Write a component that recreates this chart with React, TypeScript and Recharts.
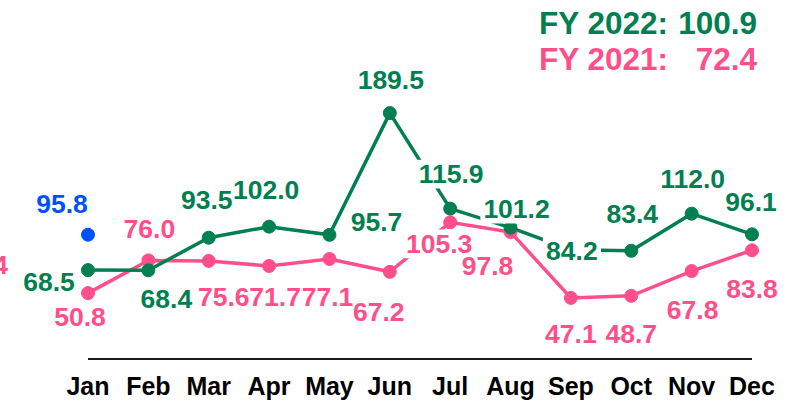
import { Line, LineChart, ReferenceLine, XAxis, YAxis } from "recharts";

const months = ["Jan", "Feb", "Mar", "Apr", "May", "Jun", "Jul", "Aug", "Sep", "Oct", "Nov", "Dec"];
const fy2022 = [68.5, 68.4, 93.5, 102.0, 95.7, 189.5, 115.9, 101.2, 84.2, 83.4, 112.0, 96.1];
const fy2021 = [50.8, 76.0, 75.6, 71.7, 77.1, 67.2, 105.3, 97.8, 47.1, 48.7, 67.8, 83.8];
const extra = [95.8, null, null, null, null, null, null, null, null, null, null, null];

// where each value label sits, relative to its point (label centre)
const fy2022LabelPos: [number, number][] = [
  [-39, 11], [18, 28], [-2, -38], [-3, -37], [47, -13], [1, -34],
  [1, -35], [6, -19], [1, 1], [1, -37], [1, -35], [-1, -33],
];
const fy2021LabelPos: [number, number][] = [
  [-8, 23], [1, -32], [15, 36], [6, 31], [-2, 38], [-11, 40],
  [-11, 21], [-23, 33], [0, 36], [0, 38], [1, 38], [0, 38],
];
const extraLabelPos: [number, number][] = [[-26, -31]];

const GREEN = "#007f50";
const PINK = "#ff4f8b";
const BLUE = "#0050ff";
const FONT = "'Liberation Sans', Arial, sans-serif";
const FS = 26.5;

const mean = (xs: number[]) => xs.reduce((a, b) => a + b, 0) / xs.length;
const avg2022 = mean(fy2022);
const avg2021 = mean(fy2021);

const data = months.map((m, i) => ({
  month: m,
  fy2022: fy2022[i],
  fy2021: fy2021[i],
  extra: extra[i],
}));

function textWidth(s: string) {
  let w = 0;
  for (const ch of s) w += ch === "." ? 0.278 : 0.556;
  return w * FS * 0.97;
}

// white box behind a value label (drawn in its own pass, under all label text)
function labelBox(pos: [number, number][]) {
  return (props: any) => {
    const { x, y, value, index } = props;
    if (value == null || x == null || y == null) return null;
    const [dx, dy] = pos[index] ?? [0, -32];
    const w = textWidth(Number(value).toFixed(1)) + 8;
    const base = y + dy + 0.358 * FS;
    return (
      <rect key={`box-${index}`} x={x + dx - w / 2} y={base - 0.88 * FS} width={w} height={1.08 * FS} fill="#fff" />
    );
  };
}

function labelText(color: string, pos: [number, number][]) {
  return (props: any) => {
    const { x, y, value, index } = props;
    if (value == null || x == null || y == null) return null;
    const [dx, dy] = pos[index] ?? [0, -32];
    return (
      <text
        key={`txt-${index}`}
        x={x + dx}
        y={y + dy + 0.358 * FS}
        textAnchor="middle"
        fill={color}
        fontSize={FS}
        fontWeight={700}
        fontFamily={FONT}
      >
        {Number(value).toFixed(1)}
      </text>
    );
  };
}

const hiddenLine = { stroke: "none", dot: false, activeDot: false, isAnimationActive: false } as const;

export default function App() {
  const row = {
    display: "flex",
    justifyContent: "space-between",
    whiteSpace: "pre" as const,
    lineHeight: "36px",
  };
  return (
    <div style={{ position: "absolute", left: 0, top: 0, width: 807, height: 401, background: "#fff" }}>
      <LineChart width={807} height={401} data={data} margin={{ top: 99.5, right: 55, bottom: 12, left: 88 }}>
        <XAxis
          dataKey="month"
          interval={0}
          tickLine={false}
          tickMargin={12}
          axisLine={{ stroke: "#1a1a1a", strokeWidth: 2 }}
          tick={{ fill: "#000", fontSize: 25, fontWeight: 700, fontFamily: FONT }}
        />
        <YAxis hide domain={[0, 200]} />
        <ReferenceLine
          y={avg2021}
          stroke="none"
          label={{
            value: avg2021.toFixed(1),
            position: "left",
            offset: 80,
            fill: PINK,
            fontSize: FS,
            fontWeight: 700,
            fontFamily: FONT,
          }}
        />
        <Line
          dataKey="fy2021"
          stroke={PINK}
          strokeWidth={3.5}
          dot={{ r: 6.5, fill: PINK, stroke: PINK, strokeWidth: 1 }}
          activeDot={false}
          isAnimationActive={false}
        />
        <Line
          dataKey="fy2022"
          stroke={GREEN}
          strokeWidth={3.5}
          dot={{ r: 6.5, fill: GREEN, stroke: GREEN, strokeWidth: 1 }}
          activeDot={false}
          isAnimationActive={false}
        />
        <Line
          dataKey="extra"
          stroke="none"
          dot={{ r: 6.5, fill: BLUE, stroke: BLUE, strokeWidth: 1 }}
          activeDot={false}
          isAnimationActive={false}
        />
        {/* label boxes first, then the label text, so no box hides a neighbour's text */}
        <Line dataKey="fy2021" name="fy2021-box" {...hiddenLine} label={labelBox(fy2021LabelPos)} />
        <Line dataKey="fy2022" name="fy2022-box" {...hiddenLine} label={labelBox(fy2022LabelPos)} />
        <Line dataKey="extra" name="extra-box" {...hiddenLine} label={labelBox(extraLabelPos)} />
        <Line dataKey="fy2021" name="fy2021-text" {...hiddenLine} label={labelText(PINK, fy2021LabelPos)} />
        <Line dataKey="fy2022" name="fy2022-text" {...hiddenLine} label={labelText(GREEN, fy2022LabelPos)} />
        <Line dataKey="extra" name="extra-text" {...hiddenLine} label={labelText(BLUE, extraLabelPos)} />
      </LineChart>
      <div
        style={{
          position: "absolute",
          left: 539,
          top: 5,
          width: 218,
          fontFamily: FONT,
          fontWeight: 700,
          fontSize: 31.5,
        }}
      >
        <div style={{ ...row, color: GREEN }}>
          <span>FY 2022:</span>
          <span>{avg2022.toFixed(1)}</span>
        </div>
        <div style={{ ...row, color: PINK }}>
          <span>FY 2021:</span>
          <span>{avg2021.toFixed(1)}</span>
        </div>
      </div>
    </div>
  );
}
